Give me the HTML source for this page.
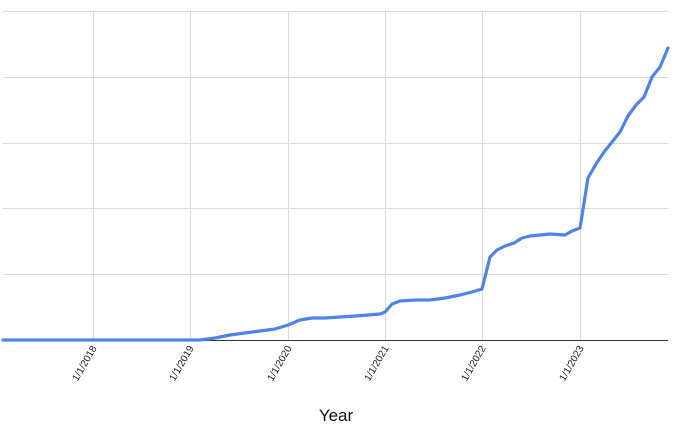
<!DOCTYPE html>
<html><head><meta charset="utf-8"><style>
html,body{margin:0;padding:0;background:#fff;}
svg{display:block;font-family:"Liberation Sans",Arial,sans-serif;}
</style></head><body>
<svg width="680" height="438" viewBox="0 0 680 438" xmlns="http://www.w3.org/2000/svg">
<g stroke="#d9d9d9" stroke-width="1">
<line x1="3" y1="11.5" x2="668" y2="11.5"/>
<line x1="3" y1="77.5" x2="668" y2="77.5"/>
<line x1="3" y1="143.5" x2="668" y2="143.5"/>
<line x1="3" y1="208.5" x2="668" y2="208.5"/>
<line x1="3" y1="274.5" x2="668" y2="274.5"/>
<line x1="93.5" y1="11" x2="93.5" y2="340"/>
<line x1="190.5" y1="11" x2="190.5" y2="340"/>
<line x1="288.5" y1="11" x2="288.5" y2="340"/>
<line x1="385.5" y1="11" x2="385.5" y2="340"/>
<line x1="482.5" y1="11" x2="482.5" y2="340"/>
<line x1="580.5" y1="11" x2="580.5" y2="340"/>
</g>
<line x1="3" y1="340.5" x2="668" y2="340.5" stroke="#333" stroke-width="1"/>
<polyline fill="none" stroke="#5083e8" stroke-width="3.2" stroke-linejoin="round" stroke-linecap="round"
points="3,340 190,340 200,340 215,338 230,335 245,333 260,331 275,329 288,325 300,320 312,318 325,318 340,317 355,316 368,315 380,314 385,312 392,304 400,301 415,300 430,300 445,298 460,295 472,292 482,289 490,257 497,250 505,246 514,243 522,238 530,236 540,235 550,234 565,235 572,231 580,228 588,178 596,164 604,152 612,142 620,132 628,116 636,105 644,97 652,77 660,67 668,48"/>
<g font-size="10" fill="#222" text-anchor="end">
<text transform="translate(97,348) rotate(-60)">1/1/2018</text>
<text transform="translate(194,348) rotate(-60)">1/1/2019</text>
<text transform="translate(292,348) rotate(-60)">1/1/2020</text>
<text transform="translate(389,348) rotate(-60)">1/1/2021</text>
<text transform="translate(486,348) rotate(-60)">1/1/2022</text>
<text transform="translate(584,348) rotate(-60)">1/1/2023</text>
</g>
<text x="336" y="421" font-size="17" fill="#111" text-anchor="middle">Year</text>
</svg>
</body></html>
